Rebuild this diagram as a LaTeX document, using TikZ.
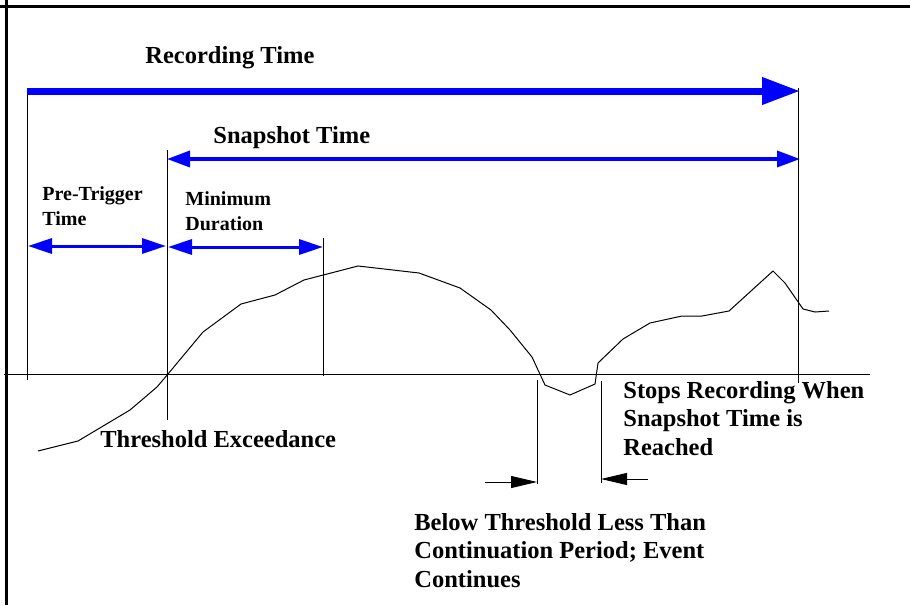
\documentclass[tikz,border=0pt]{standalone}
\usepackage{fontspec}
\setmainfont{Liberation Serif}
\usetikzlibrary{arrows.meta}
\definecolor{span}{RGB}{0,0,255}

\tikzset{
  bigtext/.style={font=\bfseries\fontsize{12.25}{14.25}\selectfont,inner sep=0pt,align=left},
  smalltext/.style={font=\bfseries\fontsize{10}{12.5}\selectfont,inner sep=0pt,align=left},
  marker/.style={line width=0.5pt,black},
  recarrow/.style={span,line width=3.5pt,-{Triangle[length=19pt,width=13pt]}},
  snaparrow/.style={span,line width=1.75pt,{Triangle[length=11.5pt,width=8pt]}-{Triangle[length=11.5pt,width=8pt]}},
  durarrow/.style={span,line width=1.5pt,{Triangle[length=12pt,width=7.5pt]}-{Triangle[length=12pt,width=7.5pt]}},
  gaparrow/.style={line width=0.5pt,black,-{Triangle[length=13pt,width=6pt]}}
}

\begin{document}
\begin{tikzpicture}[x=0.5pt,y=-0.5pt]
  \useasboundingbox (0,0) rectangle (910,605);
  % frame, top and left only
  \draw[line width=1.8pt] (0,6.5) -- (910,6.5);
  \draw[line width=1.8pt] (6.3,0) -- (6.3,605);

  % threshold level and time markers
  \draw[marker] (4,374) -- (870,374);
  \foreach \x/\ya/\yb in {27/88/380,167/150/420,323/238/376,798/88/383,537/380/484,601/381/483}
    \draw[marker] (\x,\ya) -- (\x,\yb);

  % signal
  \draw[line width=0.5pt] plot coordinates {(38,451) (78,441) (130,410) (157,387) (168,374)
    (203,332) (241,304) (275,295) (304,280) (358,266) (419,273) (460,288) (491,310)
    (510,330) (532,357) (545,385) (570,395) (595,384) (598,363) (623,339) (650,323)
    (682,316) (702,316) (729,311) (773,271) (785,283) (803,309) (815,312) (829,311)};

  % spans
  \coordinate (r0) at (27,91);  \coordinate (r1) at (800,91);
  \coordinate (s0) at (167,159); \coordinate (s1) at (800,159);
  \coordinate (p0) at (28,246);  \coordinate (p1) at (166,246);
  \coordinate (m0) at (168,247); \coordinate (m1) at (323,247);
  \coordinate (c0) at (485,482); \coordinate (c1) at (537,482);
  \coordinate (c2) at (648,479); \coordinate (c3) at (601,479);
  \draw[recarrow] (r0) -- (r1);
  \draw[snaparrow] (s0) -- (s1);
  \draw[durarrow] (p0) -- (p1);
  \draw[durarrow] (m0) -- (m1);
  \draw[gaparrow] (c0) -- (c1);
  \draw[gaparrow] (c2) -- (c3);

  % labels (base = last line)
  \node[bigtext,anchor=base west] (rec) at (145,63) {Recording Time};
  \node[bigtext,anchor=base west] (snap) at (213,143) {Snapshot Time};
  \node[smalltext,anchor=base west] (pre) at (42,225) {Pre-Trigger\\Time};
  \node[smalltext,anchor=base west] (mindur) at (185,230) {Minimum\\Duration};
  \node[bigtext,anchor=base west] (thr) at (100,447) {Threshold Exceedance};
  \node[bigtext,anchor=base west] (stops) at (623,455) {Stops Recording When\\Snapshot Time is\\Reached};
  \node[bigtext,anchor=base west] (below) at (414,587) {Below Threshold Less Than\\Continuation Period; Event\\Continues};
\end{tikzpicture}
\end{document}
